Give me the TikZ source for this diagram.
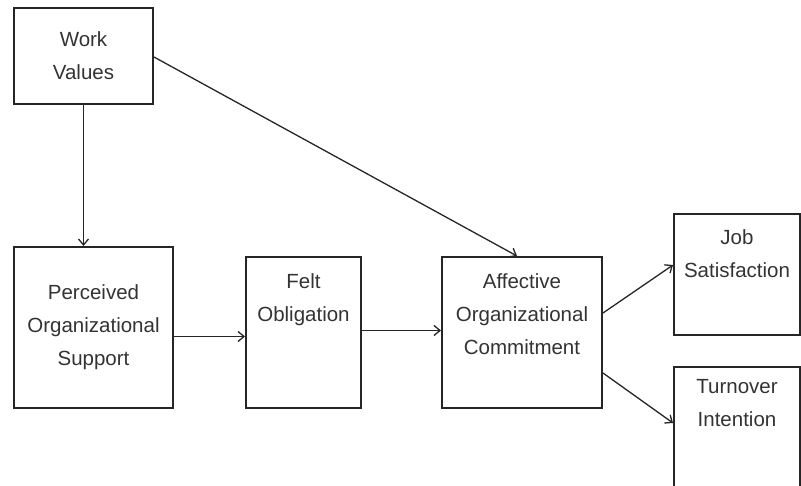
\documentclass[tikz,border=0pt]{standalone}
\usepackage{fontspec}
\setmainfont{Liberation Sans}
\usetikzlibrary{arrows.meta, positioning}

\begin{document}
\begin{tikzpicture}[x=1pt, y=-1pt,
	box/.style={rectangle, draw=black!85, line width=2pt, inner sep=0pt, align=center,
		font=\fontsize{20.5}{33}\selectfont, text=black!80},
	lbl/.style={anchor=north, inner sep=0pt, align=center,
		font=\fontsize{20.5}{33}\selectfont, text=black!80},
	link/.style={draw=black!85, line width=1.3pt, -{Straight Barb[length=6pt, width=10pt]}}]
	\useasboundingbox (0,0) rectangle (801,486);
	\clip (0,0) rectangle (801,486);
	% boxes
	\node[box, minimum width=139pt, minimum height=96pt] (wv) at (83.5,56) {Work\\Values};
	\node[box, minimum width=159pt, minimum height=161pt] (pos) at (93.5,327.5) {Perceived\\Organizational\\Support};
	\node[box, minimum width=115pt, minimum height=151pt] (fo) at (303.5,332.5) {};
	\node[box, minimum width=160pt, minimum height=151pt] (aoc) at (522,332.5) {};
	\node[box, minimum width=126pt, minimum height=121pt] (js) at (737,274.5) {};
	\node[box, minimum width=126pt, minimum height=140pt] (ti) at (737,437) {};
	% texts
	\node[lbl, below=17pt of fo.north] (fot) {Felt\\Obligation};
	\node[lbl, below=17pt of aoc.north] (aoct) {Affective\\Organizational\\Commitment};
	\node[lbl, below=16pt of js.north] (jst) {Job\\Satisfaction};
	\node[lbl, below=13pt of ti.north] (tit) {Turnover\\Intention};
	% arrows
	\draw[link] (wv.south) -- (wv.south |- pos.north);
	\draw[link] ([yshift=-1pt]wv.east) -- ([xshift=-5pt]aoc.north);
	\draw[link] ([yshift=-9pt]pos.east) -- ([yshift=-4pt]fo.west);
	\draw[link] ([yshift=2pt]fo.east) -- ([yshift=2pt]aoc.west);
	\draw[link] ([yshift=19.5pt]aoc.east) -- ([yshift=9.5pt]js.west);
	\draw[link] ([yshift=-40.5pt]aoc.east) -- ([yshift=14pt]ti.west);
\end{tikzpicture}
\end{document}
